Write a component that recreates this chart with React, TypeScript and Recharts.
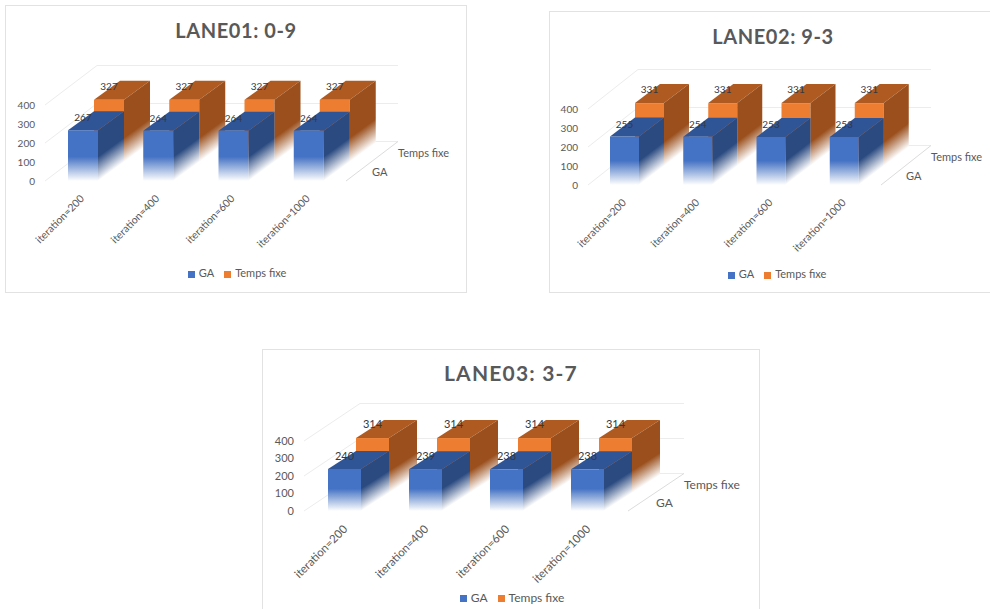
import { Bar, BarChart, CartesianGrid, LabelList, Legend, XAxis, YAxis } from 'recharts'

const categories = ['iteration=200', 'iteration=400', 'iteration=600', 'iteration=1000']
const yTicks = [0, 100, 200, 300, 400]

const lane01Ga = [267, 264, 264, 264]
const lane01Fixed = [327, 327, 327, 327]
const lane02Ga = [255, 254, 253, 253]
const lane02Fixed = [331, 331, 331, 331]
const lane03Ga = [240, 239, 238, 238]
const lane03Fixed = [314, 314, 314, 314]

const INK = '#595959'
const LABEL_INK = '#363840'
const GRID = '#ececec'
const FONT = 'Lato, "Open Sans", sans-serif'

const BLUE = { front: '#4472c4', top: '#2f5597', side: '#2a4a80' }
const ORANGE = { front: '#ed7d31', top: '#ae5a21', side: '#9a4f1c' }

const rows = (ga: number[], fixed: number[]) =>
  categories.map((name, i) => ({ name, ga: ga[i], fixed: fixed[i] }))

type Box = {
  id: string
  colors: typeof BLUE
  dx: number // shift of the row along the depth axis
  dy: number
  depthX: number // box depth on screen
  depthY: number
  fade: number
}

// 3D box: front, top and side faces grown out of the bar rectangle the chart computed
function boxShape({ id, colors, dx, dy, depthX, depthY, fade }: Box) {
  return function BoxShape(props: any) {
    const x = props.x + dx
    const y = props.y - dy
    const w = props.width
    const h = props.height
    const bottom = y + h
    const right = x + w
    const gid = `${id}-${props.index}`

    // side face fades along lines that follow the floor slope
    const len = Math.hypot(depthX, depthY)
    const nx = depthY / len
    const ny = depthX / len
    const span = fade * ny

    return (
      <g>
        <defs>
          <linearGradient id={`${gid}-f`} gradientUnits="userSpaceOnUse" x1="0" y1={bottom - fade} x2="0" y2={bottom}>
            <stop offset="0%" stopColor={colors.front} />
            <stop offset="100%" stopColor="#fff" />
          </linearGradient>
          <linearGradient
            id={`${gid}-s`}
            gradientUnits="userSpaceOnUse"
            x1={right}
            y1={bottom - fade}
            x2={right + nx * span}
            y2={bottom - fade + ny * span}
          >
            <stop offset="0%" stopColor={colors.side} />
            <stop offset="100%" stopColor="#fff" />
          </linearGradient>
        </defs>
        <rect x={x} y={y} width={w} height={h} fill={`url(#${gid}-f)`} />
        <polygon
          points={`${x},${y} ${x + depthX},${y - depthY} ${right + depthX},${y - depthY} ${right},${y}`}
          fill={colors.top}
        />
        <polygon
          points={`${right},${y} ${right + depthX},${y - depthY} ${right + depthX},${bottom - depthY} ${right},${bottom}`}
          fill={`url(#${gid}-s)`}
        />
      </g>
    )
  }
}

type PanelProps = {
  id: string
  title: string
  data: ReturnType<typeof rows>
  frame: { left: number; top: number; width: number; height: number }
  plot: { left: number; top: number; width: number; height: number }
  titleX: number
  titleY: number
  titleSize: number
  titleSpacing: number
  legendX: number
  legendY: number
  barSize: number
  depthX: number
  depthY: number
  fontSize: number
  tickShift: number
}

function LanePanel(p: PanelProps) {
  const { frame, plot, depthX, depthY, fontSize } = p
  const wallX = depthX * 2
  const wallY = depthY * 2 + 1.5 // small gap behind the back row
  const plotBottom = plot.top + plot.height
  const plotRight = plot.left + plot.width
  const fade = plot.height * 0.32

  // each grid line runs up the left wall, then across the back wall
  const wallLine = (line: any) => {
    const isFloor = Math.abs(line.y1 - plotBottom) < 1
    return (
      <g key={line.key ?? line.index} fill="none" stroke={GRID} strokeWidth={1}>
        <polyline
          points={`${line.x1},${line.y1} ${line.x1 + wallX},${line.y1 - wallY} ${line.x2 + wallX},${line.y1 - wallY}`}
        />
        {isFloor && <line x1={line.x2} y1={line.y1} x2={line.x2 + wallX} y2={line.y1 - wallY} stroke="#dcdcdc" />}
      </g>
    )
  }

  return (
    <div
      style={{
        position: 'absolute',
        left: frame.left,
        top: frame.top,
        width: frame.width,
        height: frame.height,
        boxShadow: 'inset 0 0 0 1px #e2e2e2',
      }}
    >
      <div
        style={{
          position: 'absolute',
          left: p.titleX - 120,
          top: p.titleY - 14,
          width: 240,
          height: 28,
          lineHeight: '28px',
          textAlign: 'center',
          fontFamily: FONT,
          fontWeight: 700,
          fontSize: p.titleSize,
          letterSpacing: p.titleSpacing,
          color: INK,
        }}
      >
        {p.title}
      </div>
      <BarChart
        width={frame.width}
        height={frame.height}
        data={p.data}
        barSize={p.barSize}
        barGap={-p.barSize}
        margin={{
          top: plot.top,
          left: plot.left - 40,
          right: frame.width - plotRight,
          bottom: frame.height - plotBottom - 70,
        }}
        style={{ fontFamily: FONT }}
      >
        <CartesianGrid horizontal={wallLine} vertical={false} />
        <XAxis
          dataKey="name"
          interval={0}
          height={70}
          angle={-45}
          textAnchor="end"
          tickLine={false}
          axisLine={false}
          tickMargin={7}
          tick={{ fontSize: fontSize + 0.5, fill: INK, dx: p.tickShift }}
        />
        <YAxis
          width={40}
          domain={[0, 400]}
          ticks={yTicks}
          tickLine={false}
          axisLine={false}
          tickMargin={4}
          tick={{ fontSize, fill: INK }}
        />
        <Bar
          dataKey="fixed"
          name="Temps fixe"
          fill={ORANGE.front}
          isAnimationActive={false}
          shape={boxShape({
            id: `${p.id}-fixed`,
            colors: ORANGE,
            dx: depthX,
            dy: depthY,
            depthX,
            depthY,
            fade,
          })}
        >
          <LabelList dataKey="fixed" position="top" offset={10} dx={depthX} dy={-depthY} fontSize={fontSize} fill={LABEL_INK} />
        </Bar>
        <Bar
          dataKey="ga"
          name="GA"
          fill={BLUE.front}
          isAnimationActive={false}
          shape={boxShape({ id: `${p.id}-ga`, colors: BLUE, dx: 0, dy: 0, depthX, depthY, fade })}
        >
          <LabelList dataKey="ga" position="top" offset={9} fontSize={fontSize} fill={LABEL_INK} />
        </Bar>
        {/* depth axis names sit beyond the floor's right edge */}
        <text x={plotRight + wallX} y={plotBottom - depthY * 2 + 14} fontSize={fontSize + 1} fill={INK}>
          Temps fixe
        </text>
        <text x={plotRight + depthX} y={plotBottom - depthY + 14} fontSize={fontSize + 1} fill={INK}>
          GA
        </text>
        <Legend
          verticalAlign="middle"
          align="center"
          iconType="square"
          iconSize={7}
          wrapperStyle={{
            top: p.legendY - 8,
            bottom: 'auto',
            left: p.legendX,
            width: frame.width,
            fontSize: fontSize + 1,
          }}
          formatter={(value: string) => <span style={{ color: INK }}>{value}</span>}
        />
      </BarChart>
    </div>
  )
}

export default function App() {
  return (
    <div style={{ position: 'absolute', left: 0, top: 0, width: 990, height: 609, overflow: 'hidden', background: '#fff' }}>
      <LanePanel
        id="lane01"
        title="LANE01: 0-9"
        data={rows(lane01Ga, lane01Fixed)}
        frame={{ left: 5, top: 5, width: 462, height: 288 }}
        plot={{ left: 40, top: 100, width: 301, height: 76 }}
        titleX={231}
        titleY={25}
        titleSize={20}
        titleSpacing={0.6}
        legendX={6}
        legendY={269}
        barSize={30}
        depthX={26}
        depthY={19}
        fontSize={10}
        tickShift={-3}
      />
      <LanePanel
        id="lane02"
        title="LANE02: 9-3"
        data={rows(lane02Ga, lane02Fixed)}
        frame={{ left: 549, top: 11, width: 456, height: 282 }}
        plot={{ left: 39, top: 98, width: 293, height: 76 }}
        titleX={224}
        titleY={25}
        titleSize={20}
        titleSpacing={0.6}
        legendX={5}
        legendY={264}
        barSize={29}
        depthX={25}
        depthY={19}
        fontSize={10}
        tickShift={-3}
      />
      <LanePanel
        id="lane03"
        title="LANE03: 3-7"
        data={rows(lane03Ga, lane03Fixed)}
        frame={{ left: 262, top: 349, width: 498, height: 270 }}
        plot={{ left: 42, top: 92, width: 324, height: 70 }}
        titleX={249}
        titleY={24}
        titleSize={21}
        titleSpacing={1.2}
        legendX={6}
        legendY={249}
        barSize={33}
        depthX={28}
        depthY={18}
        fontSize={11}
        tickShift={-2}
      />
    </div>
  )
}
